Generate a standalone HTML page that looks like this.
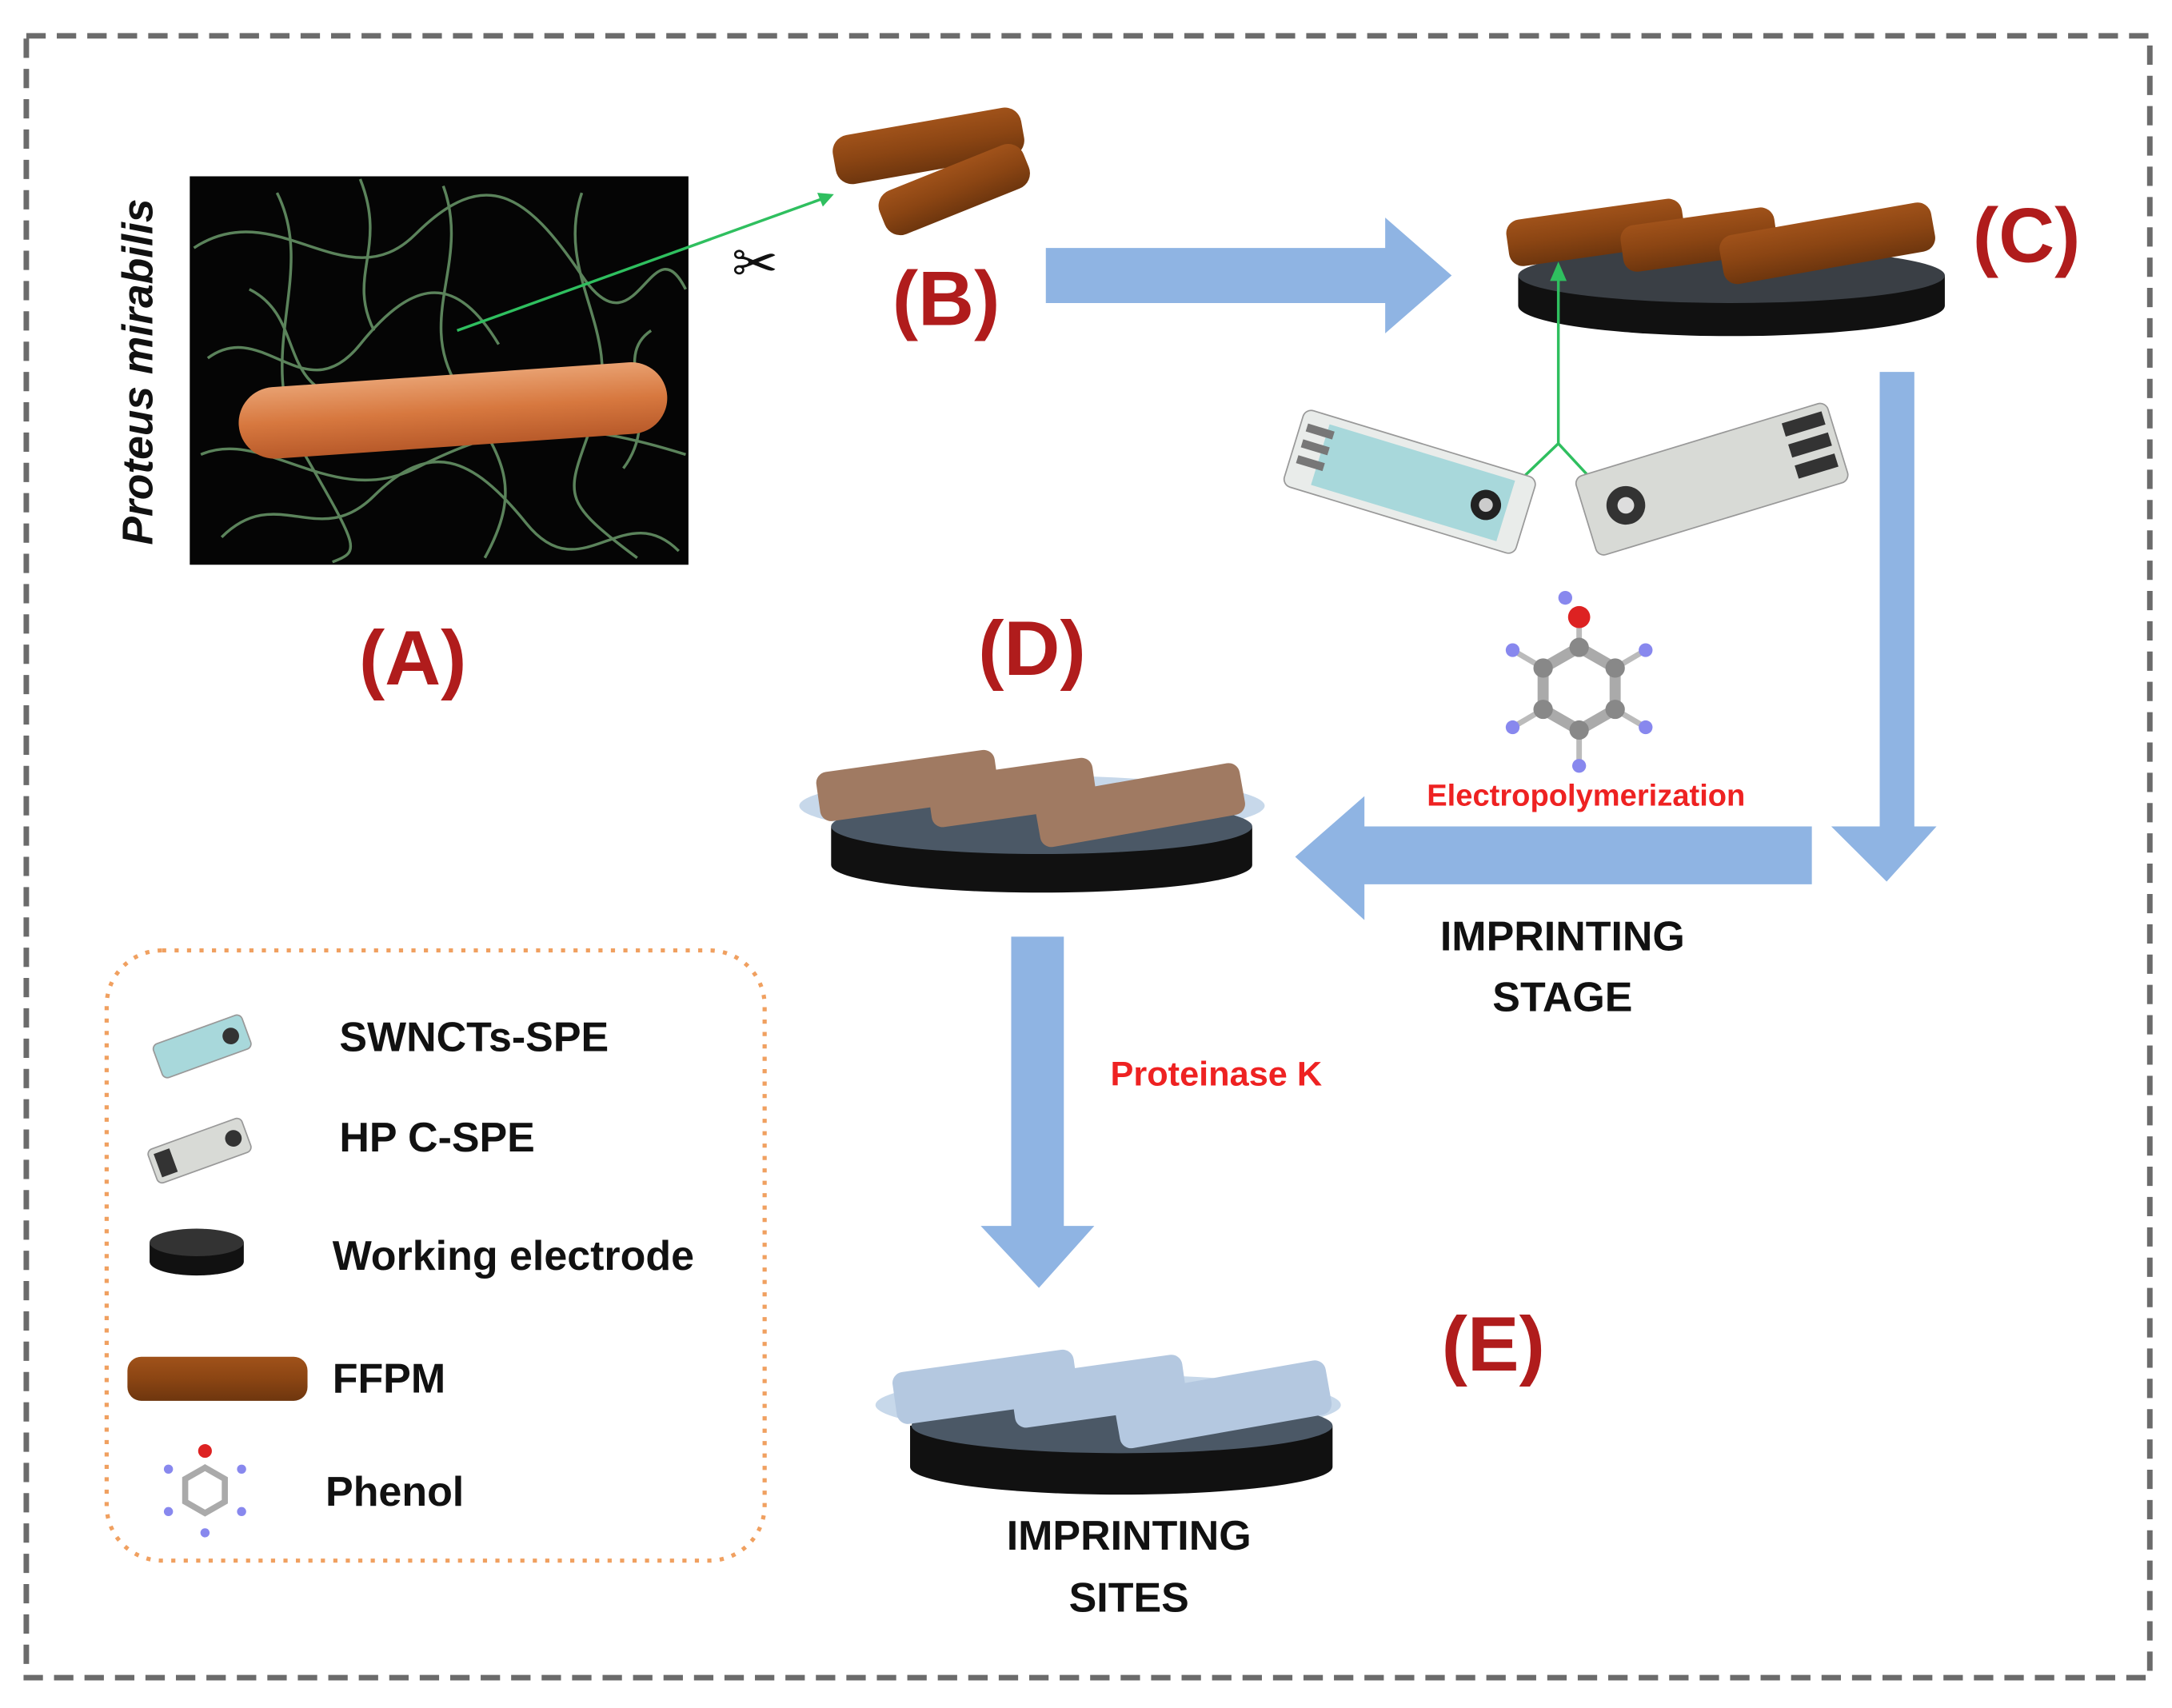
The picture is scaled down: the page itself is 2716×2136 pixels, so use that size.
<!DOCTYPE html>
<html><head><meta charset="utf-8"><style>html,body{margin:0;padding:0;background:#fff}svg{display:block}</style></head>
<body>
<svg width="2716" height="2136" viewBox="0 0 1568 1240" preserveAspectRatio="none" xmlns="http://www.w3.org/2000/svg" font-family="Liberation Sans, sans-serif">
<defs>
<linearGradient id="rod" x1="0" y1="0" x2="0" y2="1"><stop offset="0" stop-color="#a0521a"/><stop offset="0.5" stop-color="#8b4513"/><stop offset="1" stop-color="#6e360e"/></linearGradient>
<linearGradient id="bac" x1="0" y1="0" x2="0" y2="1"><stop offset="0" stop-color="#e8a070"/><stop offset="0.5" stop-color="#d7783f"/><stop offset="1" stop-color="#b85a2a"/></linearGradient>
</defs>
<rect x="19" y="26" width="1533" height="1192" fill="none" stroke="#6b6b6b" stroke-width="4" stroke-dasharray="14,8"/>
<!-- A image -->
<rect x="137" y="128" width="360" height="282" fill="#050505"/>
<g fill="none" stroke="#6a9a6a" stroke-width="2" opacity="0.85">
<path d="M140 180 C200 140 250 220 300 170 S380 140 420 200 S470 160 495 210"/>
<path d="M150 260 C190 230 220 300 260 250 S330 200 360 250"/>
<path d="M160 390 C200 350 230 400 270 360 S340 330 380 380 S450 360 490 400"/>
<path d="M200 140 C230 200 180 260 220 330 S260 400 240 408"/>
<path d="M320 135 C340 190 300 230 330 280 S380 350 350 405"/>
<path d="M420 140 C400 200 450 240 430 300 S400 360 460 405"/>
<path d="M145 330 C190 310 240 370 300 340 S400 300 495 330"/>
<path d="M260 130 C280 180 250 200 270 240"/>
<path d="M470 240 C440 260 480 300 450 340"/>
<path d="M180 210 C220 230 200 280 250 290"/>
</g>
<rect x="172" y="272" width="310" height="52" rx="26" transform="rotate(-4 327 298)" fill="url(#bac)"/>
<line x1="330" y1="240" x2="600" y2="142" stroke="#2fbf5f" stroke-width="2"/>
<polygon points="602,141 590,140 594,150" fill="#2fbf5f"/>
<text transform="translate(110 270) rotate(-90)" text-anchor="middle" font-size="31" font-weight="bold" font-style="italic" fill="#111">Proteus mirabilis</text>
<text x="545" y="205" font-size="40" text-anchor="middle" fill="#111">✂</text>
<!-- B rods -->
<g transform="rotate(-10 670 110)"><rect x="602" y="88" width="138" height="36" rx="12" fill="url(#rod)"/></g>
<g transform="rotate(-22 690 135)"><rect x="632" y="120" width="112" height="34" rx="12" fill="url(#rod)"/></g>
<!-- labels -->
<g font-size="56" font-weight="bold" fill="#b01c1c" text-anchor="middle">
<text x="298" y="497">(A)</text><text x="683" y="236">(B)</text><text x="1463" y="190">(C)</text><text x="745" y="490">(D)</text><text x="1078" y="995">(E)</text>
</g>
<!-- arrows -->
<g fill="#8fb4e3">
<polygon points="755,180 1000,180 1000,158 1048,200 1000,242 1000,220 755,220"/>
<polygon points="1357,270 1382,270 1382,600 1398,600 1362,640 1322,600 1357,600"/>
<polygon points="1308,600 985,600 985,578 935,622 985,668 985,642 1308,642"/>
<polygon points="730,680 768,680 768,890 790,890 750,935 708,890 730,890"/>
</g>
<!-- C electrode -->
<path d="M1096 200 v22 a154 22 0 0 0 308 0 v-22 z" fill="#111"/>
<ellipse cx="1250" cy="200" rx="154" ry="20" fill="#3a3f45"/>
<g transform="rotate(-8 1150 170)"><rect x="1088" y="152" width="128" height="34" rx="10" fill="url(#rod)"/></g>
<g transform="rotate(-8 1240 170)"><rect x="1170" y="155" width="112" height="34" rx="10" fill="url(#rod)"/></g>
<g transform="rotate(-10 1300 180)"><rect x="1242" y="162" width="155" height="36" rx="10" fill="url(#rod)"/></g>
<polyline points="1125,195 1125,322 1070,375" fill="none" stroke="#2fbf5f" stroke-width="2"/>
<line x1="1125" y1="322" x2="1160" y2="360" stroke="#2fbf5f" stroke-width="2"/>
<polygon points="1125,190 1119,204 1131,204" fill="#2fbf5f"/>
<!-- SPE strips -->
<g transform="rotate(17 1015 350)"><rect x="930" y="320" width="175" height="58" rx="6" fill="#e9ecea" stroke="#999"/><rect x="950" y="326" width="140" height="46" fill="#a8d8db"/><rect x="935" y="330" width="20" height="6" fill="#777"/><rect x="935" y="342" width="20" height="6" fill="#777"/><rect x="935" y="354" width="20" height="6" fill="#777"/><circle cx="1075" cy="349" r="11" fill="#222"/><circle cx="1075" cy="349" r="5" fill="#ccc"/></g>
<g transform="rotate(-17 1235 345)"><rect x="1140" y="318" width="190" height="60" rx="6" fill="#d8dad6" stroke="#999"/><rect x="1295" y="324" width="30" height="10" fill="#333"/><rect x="1295" y="340" width="30" height="10" fill="#333"/><rect x="1295" y="356" width="30" height="10" fill="#333"/><circle cx="1170" cy="348" r="14" fill="#333"/><circle cx="1170" cy="348" r="6" fill="#ddd"/></g>
<!-- phenol -->
<g transform="translate(1140 500)">
<g stroke="#bbb" stroke-width="4"><line x1="-26" y1="-15" x2="-48" y2="-28"/><line x1="26" y1="-15" x2="48" y2="-28"/><line x1="-26" y1="15" x2="-48" y2="28"/><line x1="26" y1="15" x2="48" y2="28"/><line x1="0" y1="30" x2="0" y2="56"/><line x1="0" y1="-30" x2="0" y2="-52"/></g>
<polygon points="0,-30 26,-15 26,15 0,30 -26,15 -26,-15" fill="none" stroke="#aaa" stroke-width="8"/>
<g fill="#888"><circle cx="0" cy="-30" r="7"/><circle cx="26" cy="-15" r="7"/><circle cx="26" cy="15" r="7"/><circle cx="0" cy="30" r="7"/><circle cx="-26" cy="15" r="7"/><circle cx="-26" cy="-15" r="7"/></g>
<g fill="#8888ee"><circle cx="-48" cy="-28" r="5"/><circle cx="48" cy="-28" r="5"/><circle cx="-48" cy="28" r="5"/><circle cx="48" cy="28" r="5"/><circle cx="0" cy="56" r="5"/><circle cx="-10" cy="-66" r="5"/></g>
<circle cx="0" cy="-52" r="8" fill="#dd2222"/>
</g>
<text x="1145" y="585" font-size="22" font-weight="bold" fill="#ee2222" text-anchor="middle">Electropolymerization</text>
<g font-size="30" font-weight="bold" fill="#111" text-anchor="middle">
<text x="1128" y="690">IMPRINTING</text><text x="1128" y="734">STAGE</text>
<text x="815" y="1125">IMPRINTING</text><text x="815" y="1170">SITES</text>
</g>
<text x="878" y="788" font-size="25" font-weight="bold" fill="#ee2222" text-anchor="middle">Proteinase K</text>
<!-- D electrode -->
<ellipse cx="745" cy="585" rx="168" ry="22" fill="#c7d8ea"/>
<path d="M600 600 v28 a152 20 0 0 0 304 0 v-28 z" fill="#111"/>
<ellipse cx="752" cy="600" rx="152" ry="20" fill="#4b5866"/>
<g transform="rotate(-8 650 570)"><rect x="590" y="553" width="130" height="36" rx="8" fill="#a07a62"/></g>
<g transform="rotate(-8 740 570)"><rect x="670" y="556" width="120" height="36" rx="8" fill="#a07a62"/></g>
<g transform="rotate(-10 820 585)"><rect x="748" y="566" width="150" height="38" rx="8" fill="#a07a62"/></g>
<!-- E electrode -->
<ellipse cx="800" cy="1020" rx="168" ry="22" fill="#c7d8ea"/>
<path d="M657 1035 v30 a152 20 0 0 0 305 0 v-30 z" fill="#111"/>
<ellipse cx="810" cy="1035" rx="152" ry="20" fill="#4b5866"/>
<g transform="rotate(-8 710 1005)"><rect x="645" y="988" width="132" height="38" rx="8" fill="#b4c8e0"/></g>
<g transform="rotate(-8 800 1005)"><rect x="730" y="990" width="125" height="38" rx="8" fill="#b4c8e0"/></g>
<g transform="rotate(-10 880 1018)"><rect x="805" y="1000" width="155" height="40" rx="8" fill="#b4c8e0"/></g>
<!-- legend -->
<rect x="77" y="690" width="475" height="443" rx="40" fill="none" stroke="#f0a060" stroke-width="3" stroke-dasharray="3,6"/>
<g transform="rotate(-20 145 760)"><rect x="112" y="747" width="68" height="26" rx="4" fill="#a8d8db" stroke="#999"/><circle cx="168" cy="760" r="6" fill="#333"/></g>
<g transform="rotate(-20 145 835)"><rect x="108" y="822" width="72" height="26" rx="4" fill="#d8dad6" stroke="#999"/><rect x="112" y="826" width="12" height="18" fill="#333"/><circle cx="170" cy="835" r="6" fill="#333"/></g>
<path d="M108 902 v14 a34 10 0 0 0 68 0 v-14 z" fill="#111"/><ellipse cx="142" cy="902" rx="34" ry="10" fill="#333"/>
<rect x="92" y="985" width="130" height="32" rx="10" fill="url(#rod)"/>
<g transform="translate(148 1082) scale(0.55)"><polygon points="0,-30 26,-15 26,15 0,30 -26,15 -26,-15" fill="none" stroke="#aaa" stroke-width="8"/><g fill="#8888ee"><circle cx="-48" cy="-28" r="6"/><circle cx="48" cy="-28" r="6"/><circle cx="-48" cy="28" r="6"/><circle cx="48" cy="28" r="6"/><circle cx="0" cy="56" r="6"/></g><circle cx="0" cy="-52" r="9" fill="#dd2222"/></g>
<g font-size="30" font-weight="bold" fill="#111">
<text x="245" y="763">SWNCTs-SPE</text><text x="245" y="836">HP C-SPE</text><text x="240" y="922">Working electrode</text><text x="240" y="1011">FFPM</text><text x="235" y="1093">Phenol</text>
</g>
</svg>
</body></html>
